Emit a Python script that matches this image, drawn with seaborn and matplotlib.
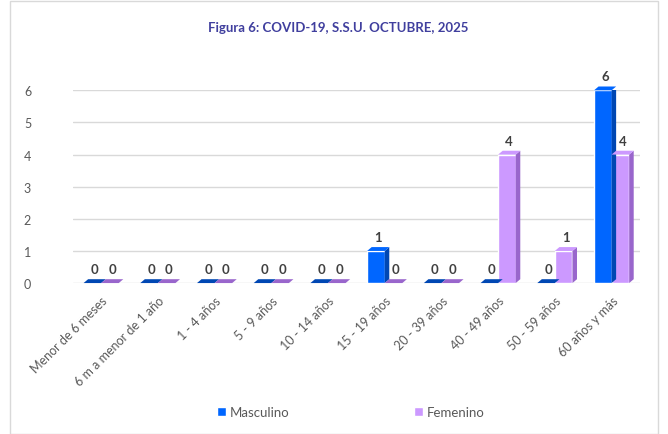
import matplotlib
matplotlib.use("Agg")
import matplotlib.pyplot as plt
import seaborn as sns
import pandas as pd
from matplotlib.patches import Polygon, Rectangle

categories = ["Menor de 6 meses", "6 m a menor de 1 año", "1 - 4 años", "5 - 9 años",
              "10 - 14 años", "15 - 19 años", "20 - 39 años", "40 - 49 años",
              "50 - 59 años", "60 años y más"]
masculino = [0, 0, 0, 0, 0, 1, 0, 0, 0, 6]
femenino = [0, 0, 0, 0, 0, 0, 0, 4, 1, 4]
series = ["Masculino", "Femenino"]
title = "Figura 6: COVID-19, S.S.U. OCTUBRE, 2025"

df = pd.DataFrame({
    "cat": categories * 2,
    "val": masculino + femenino,
    "sexo": [series[0]] * len(categories) + [series[1]] * len(categories),
})

colors = {"Masculino": "#0066FF", "Femenino": "#CC99FF"}
side = {"Masculino": "#0047B3", "Femenino": "#9966CC"}

sns.set_theme(style="white")
plt.rcParams['font.family'] = ['Lato', 'DejaVu Sans']

fig = plt.figure(figsize=(6.68, 4.35), dpi=100)
ax = fig.add_axes([0.109, 0.347, 0.849, 0.443])

sns.barplot(data=df, x="cat", y="val", hue="sexo", palette=colors, width=0.62,
            saturation=1, ax=ax, legend=False, zorder=3)

ax.set_ylim(0, 6)
ax.set_xlim(-0.5, len(categories) - 0.5)
ax.set_yticks(range(0, 7))
ax.yaxis.grid(True, color="#D9D9D9", linewidth=1, zorder=0)
ax.set_axisbelow(True)
for s in ax.spines.values():
    s.set_visible(False)
ax.set_xlabel("")
ax.set_ylabel("")
ax.tick_params(axis="both", length=0, colors="#595959", labelsize=9)
ax.tick_params(axis="y", pad=30)
ax.tick_params(axis="x", pad=8)
plt.setp(ax.get_xticklabels(), rotation=45, ha="right", rotation_mode="anchor")

# pseudo-3D depth derived from the drawn bars
dx, dy = 0.08, 0.12
n = len(categories)
for i, p in enumerate(ax.patches[:2 * n]):
    name = series[i // n]
    x0, y0 = p.get_x(), p.get_y()
    w, h = p.get_width(), p.get_height()
    y1 = y0 + h
    sidep = Polygon([(x0 + w, y0), (x0 + w + dx, y0 + dy), (x0 + w + dx, y1 + dy), (x0 + w, y1)],
                    closed=True, facecolor=side[name], edgecolor="none", zorder=3)
    top = Polygon([(x0, y1), (x0 + dx, y1 + dy), (x0 + w + dx, y1 + dy), (x0 + w, y1)],
                  closed=True, facecolor=side[name] if h == 0 else colors[name],
                  edgecolor="none", zorder=3, clip_on=False)
    ax.add_patch(sidep)
    ax.add_patch(top)
    ax.annotate(f"{int(h)}", (x0 + w / 2 + dx / 2, y1 + dy), xytext=(0, 3),
                textcoords="offset points", ha="center", va="bottom",
                fontsize=9.5, fontweight="bold", color="#404040", zorder=5,
                annotation_clip=False)

fig.text(0.506, 0.936, title, ha="center", va="center", fontsize=9.5,
         fontweight="bold", color="#403F9E")

handles = [Rectangle((0, 0), 1, 1, facecolor=colors[s]) for s in series]
fig.legend(handles, series, loc="center", bbox_to_anchor=(0.525, 0.05), ncol=2,
           frameon=False, fontsize=9.5, labelcolor="#595959", handlelength=0.7,
           handleheight=0.7, handletextpad=0.3, columnspacing=9.4)

fig.add_artist(Rectangle((0.015, 0.0), 0.97, 0.995, transform=fig.transFigure,
                         fill=False, edgecolor="#D9D9D9", linewidth=1))

fig.savefig("out.png", dpi=100)
